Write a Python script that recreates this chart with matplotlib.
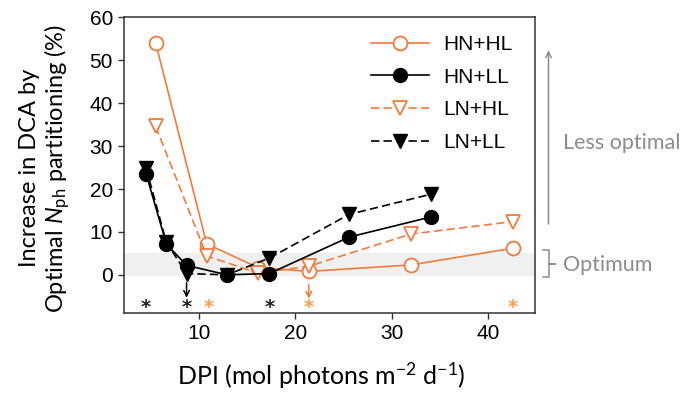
import matplotlib.pyplot as plt

plt.rcParams['mathtext.fontset'] = 'custom'
plt.rcParams['mathtext.rm'] = 'Lato'
plt.rcParams['mathtext.it'] = 'Lato:italic'

# data
dpi_hl = [5.5, 10.8, 16.1, 21.4, 32.0, 42.6]
dpi_ll = [4.5, 6.6, 8.7, 12.9, 17.3, 25.6, 34.1]
hn_hl = [54.0, 7.2, 1.7, 0.8, 2.3, 6.2]
ln_hl = [34.6, 4.4, 0.4, 2.0, 9.5, 12.4]
hn_ll = [23.5, 7.2, 2.2, 0.0, 0.3, 8.8, 13.5]
ln_ll = [24.9, 7.6, 0.3, 0.0, 3.9, 14.1, 18.8]

star_black = [4.5, 8.7, 17.3]
star_orange = [11.0, 21.4, 42.6]
arrow_black = 8.7
arrow_orange = 21.4

orange = '#f47a3c'
orange2 = '#f9a04e'
grey = '#8c8c8c'

fig = plt.figure(figsize=(6.95, 3.98), dpi=100)
ax = fig.add_axes([0.1784, 0.2136, 0.5914, 0.7425])

ax.axhspan(0, 5, xmin=0, xmax=0.995, color='#eff1f1', zorder=0)

ax.plot(dpi_hl, hn_hl, '-', color=orange, lw=1.2, marker='o', ms=10,
        mfc='white', mec=orange, mew=1.3, label='HN+HL', zorder=3)
ax.plot(dpi_ll, hn_ll, '-', color='black', lw=1.2, marker='o', ms=10,
        mfc='black', mec='black', label='HN+LL', zorder=4)
ax.plot(dpi_hl, ln_hl, '--', color=orange, lw=1.2, marker='v', ms=10,
        mfc='white', mec=orange, mew=1.3, label='LN+HL', zorder=3,
        dashes=(5, 2.5))
ax.plot(dpi_ll, ln_ll, '--', color='black', lw=1.2, marker='v', ms=10,
        mfc='black', mec='black', label='LN+LL', zorder=4, dashes=(5, 2.5))

for x in star_black:
    ax.text(x, -7.7, '*', color='#222222', fontsize=14, fontweight='bold',
            ha='center', va='center')
for x in star_orange:
    ax.text(x, -7.7, '*', color=orange2, fontsize=14, fontweight='bold',
            ha='center', va='center')

ax.annotate('', xy=(arrow_black, -6.0), xytext=(arrow_black, -1.2),
            arrowprops=dict(arrowstyle='->', color='black', lw=1.1))
ax.annotate('', xy=(arrow_orange, -6.2), xytext=(arrow_orange, -1.6),
            arrowprops=dict(arrowstyle='->', color=orange, lw=1.1))

ax.set_xlim(2.2, 44.9)
ax.set_ylim(-8.9, 60)
ax.set_xticks([10, 20, 30, 40])
ax.set_yticks([0, 10, 20, 30, 40, 50, 60])
for lab in ax.get_xticklabels() + ax.get_yticklabels():
    lab.set_fontfamily('Liberation Sans')
    lab.set_fontsize(15)
ax.tick_params(direction='out', length=4, width=1, color='#333333', pad=4)
for s in ax.spines.values():
    s.set_color('#333333')
    s.set_linewidth(1.1)

ax.set_xlabel('DPI (mol photons m$^{-2}$ d$^{-1}$)', fontfamily='Lato',
              fontsize=18)
ax.xaxis.set_label_coords(0.48, -0.162)
ax.set_ylabel('Increase in DCA by\nOptimal $\\mathit{N}_{\\mathrm{ph}}$ partitioning (%)',
              fontfamily='Lato', fontsize=17, linespacing=1.1)
ax.yaxis.set_label_coords(-0.126, 0.49)

leg = ax.legend(loc='upper left', bbox_to_anchor=(0.6, 0.94), frameon=False,
                prop={'family': 'Liberation Sans', 'size': 15},
                handlelength=2.8, handletextpad=0.7, labelspacing=0.65,
                borderpad=0, borderaxespad=0)

# annotations to the right of the axes
ax.annotate('', xy=(46.3, 53), xytext=(46.3, 11.2), annotation_clip=False,
            arrowprops=dict(arrowstyle='->', color=grey, lw=1.1))
ax.text(47.8, 30.8, 'Less optimal', color=grey, fontfamily='Lato',
        fontsize=15.5, va='center', ha='left', clip_on=False)
ax.plot([45.7, 46.4, 46.4, 47.0, 46.4, 46.4, 45.7],
        [5.8, 5.8, 2.5, 2.5, 2.5, -0.5, -0.5], color=grey, lw=1.1,
        clip_on=False)
ax.text(47.8, 2.3, 'Optimum', color=grey, fontfamily='Lato',
        fontsize=15.5, va='center', ha='left', clip_on=False)

fig.savefig('out.png', dpi=100)
